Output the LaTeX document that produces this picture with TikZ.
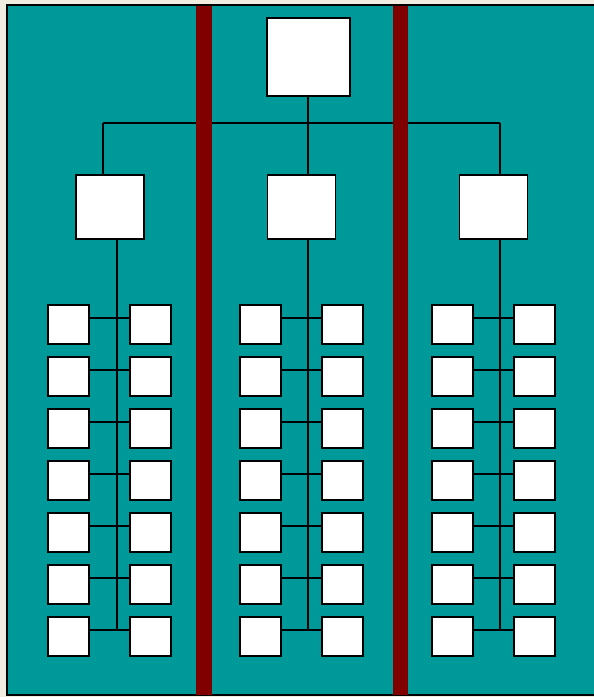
\documentclass[tikz,border=0pt]{standalone}
\usepackage{xcolor}
\usetikzlibrary{calc}
\definecolor{panelteal}{HTML}{009999}
\definecolor{barred}{HTML}{800000}
\definecolor{paper}{HTML}{F0ECE0}
\begin{document}
\begin{tikzpicture}[x=0.02cm,y=-0.02cm,line width=1.1pt,
  bigbox/.style={draw=black,fill=white,rectangle,inner sep=0pt,minimum width=1.66cm,minimum height=1.56cm},
  midbox/.style={draw=black,fill=white,rectangle,inner sep=0pt,minimum width=1.36cm,minimum height=1.28cm},
  leafbox/.style={draw=black,fill=white,rectangle,inner sep=0pt,minimum width=0.82cm,minimum height=0.78cm}]
  % background and frame
  \fill[paper] (0,0) rectangle (594,697);
  \useasboundingbox (0,0) rectangle (594,697);
  \fill[panelteal] (7,5) rectangle (594,695);
  \draw[line width=1.4pt] (594,5) -- (7,5) -- (7,695) -- (594,695);
  % top and middle level
  \node[bigbox] (top) at (308.5,57) {};
  \node[midbox] (midL) at (110,207) {};
  \node[midbox] (midC) at (301.5,207) {};
  \node[midbox] (midR) at (493.5,207) {};
  \coordinate (busL) at (103,123);
  \coordinate (busC) at (308,123);
  \coordinate (busR) at (500,123);
  \draw (top.south -| busC) -- (busC);
  \draw (busL) -- (busR);
  \draw (busL) -- (busL |- midL.north);
  \draw (busC) -- (busC |- midC.north);
  \draw (busR) -- (busR |- midR.north);
  % trunks
  \coordinate (trunkL) at (117,630);
  \coordinate (trunkC) at (308,630);
  \coordinate (trunkR) at (500,630);
  \draw (midL.south -| trunkL) -- (trunkL);
  \draw (midC.south -| trunkC) -- (trunkC);
  \draw (midR.south -| trunkR) -- (trunkR);
  % leaves
  \foreach \g/\xa/\xb in {L/68.5/150.5, C/260.5/342.5, R/452.5/534.5} {
    \foreach \k in {0,...,6} {
      \node[leafbox] (leaf\g\k a) at (\xa,324.5+52*\k) {};
      \node[leafbox] (leaf\g\k b) at (\xb,324.5+52*\k) {};
      \draw (leaf\g\k a.east |- 0,318+52*\k) -- (leaf\g\k b.west |- 0,318+52*\k);
    }
  }
  % dividers
  \fill[barred] (196,6) rectangle (211.5,695);
  \fill[barred] (392.5,6) rectangle (408,695);
\end{tikzpicture}
\end{document}
